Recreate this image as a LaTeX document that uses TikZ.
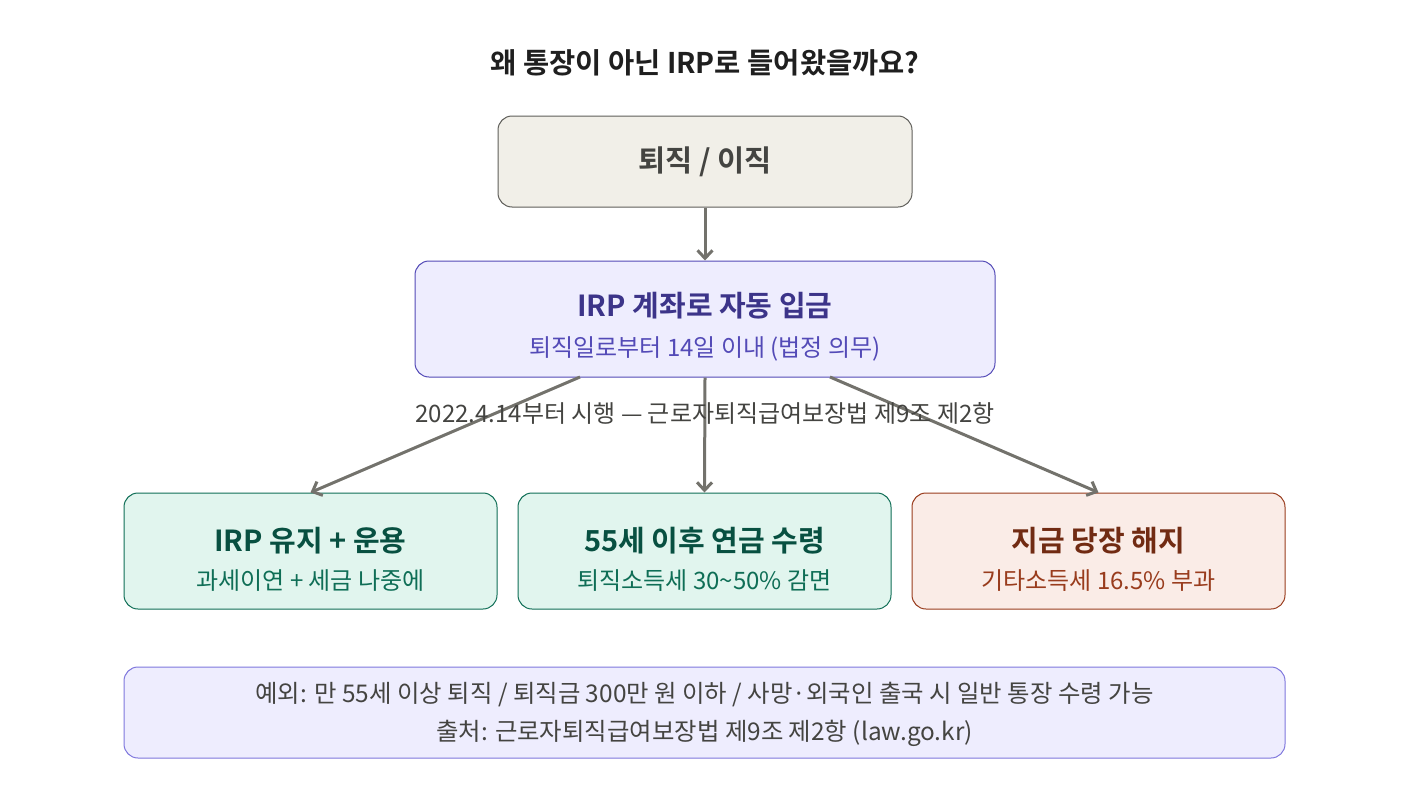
\documentclass[tikz,border=0pt]{standalone}
\usepackage{fontspec}
\setmainfont{Noto Sans CJK KR}[BoldFont={Noto Sans CJK KR Bold}]
\usetikzlibrary{arrows.meta}
\definecolor{graybg}{HTML}{F1EFE8}
\definecolor{grayln}{HTML}{5F5E5A}
\definecolor{graytx}{HTML}{444441}
\definecolor{purbg}{HTML}{EEEDFE}
\definecolor{purln}{HTML}{534AB7}
\definecolor{purft}{HTML}{7F77DD}
\definecolor{purtt}{HTML}{3C3489}
\definecolor{grnbg}{HTML}{E1F5EE}
\definecolor{grnln}{HTML}{0F6E56}
\definecolor{grntt}{HTML}{085041}
\definecolor{redbg}{HTML}{FAECE7}
\definecolor{redln}{HTML}{993C1D}
\definecolor{redtt}{HTML}{712B13}
\definecolor{arrowc}{HTML}{73726C}
\tikzset{
  box/.style={draw, rounded corners=14pt, line width=1pt, inner sep=0pt},
  conn/.style={draw=arrowc, line width=3pt, -{Straight Barb[length=8pt,width=15pt,line width=3pt]}},
  ttl/.style={font=\fontsize{29}{34}\selectfont\bfseries},
  sub/.style={font=\fontsize{24}{28}\selectfont},
  foot/.style={font=\fontsize{24.4}{28}\selectfont},
}
\begin{document}
\begin{tikzpicture}[x=1pt,y=-1pt]
\useasboundingbox (0,0) rectangle (1410,808);
\fill[white] (0,0) rectangle (1410,808);
\node[font=\fontsize{28.5}{34}\selectfont\bfseries, text=black!88] (title) at (705,63) {왜 통장이 아닌 IRP로 들어왔을까요?};
% box 1
\node[box, fill=graybg, draw=grayln, minimum width=414pt, minimum height=91pt] (b1) at (705,161.5) {};
\node[font=\fontsize{29.5}{34}\selectfont\bfseries, text=graytx] (b1t) at (b1.center) {퇴직 / 이직};
% box 2
\node[box, fill=purbg, draw=purln, minimum width=580pt, minimum height=116pt] (b2) at (705,319) {};
\node[ttl, text=purtt] (b2t) at (705,306) {IRP 계좌로 자동 입금};
\node[sub, text=purln] (b2s) at (705,349) {퇴직일로부터 14일 이내 (법정 의무)};
% bottom boxes
\node[box, fill=grnbg, draw=grnln, minimum width=373pt, minimum height=116pt] (ba) at (310.5,551) {};
\node[ttl, text=grntt] (bat) at (310.5,541) {IRP 유지 + 운용};
\node[sub, text=grnln] (bas) at (310.5,581) {과세이연 + 세금 나중에};
\node[box, fill=grnbg, draw=grnln, minimum width=373pt, minimum height=116pt] (bb) at (704.5,551) {};
\node[ttl, text=grntt] (bbt) at (704.5,541) {55세 이후 연금 수령};
\node[sub, text=grnln] (bbs) at (704.5,581) {퇴직소득세 30\textasciitilde50\% 감면};
\node[box, fill=redbg, draw=redln, minimum width=373pt, minimum height=116pt] (bc) at (1098.5,551) {};
\node[ttl, text=redtt] (bct) at (1098.5,541) {지금 당장 해지};
\node[sub, text=redln] (bcs) at (1098.5,581) {기타소득세 16.5\% 부과};
% arrows
\draw[conn] (b1.south) -- (b2.north);
\coordinate (s1) at (580,377);
\coordinate (s3) at (830,377);
\draw[conn] (s1) -- (ba.north);
\draw[conn] (b2.south) -- (bb.north);
\draw[conn] (s3) -- (bc.north);
% label
\node[sub, text=graytx] (lab) at (705,413) {2022.4.14부터 시행 — 근로자퇴직급여보장법 제9조 제2항};
% footer
\node[box, fill=purbg, draw=purft, minimum width=1161pt, minimum height=91pt] (ft) at (704.5,712.5) {};
\node[foot, text=graytx] (ft1) at (704.5,695) {예외: 만 55세 이상 퇴직 / 퇴직금 300만 원 이하 / 사망·외국인 출국 시 일반 통장 수령 가능};
\node[foot, text=graytx] (ft2) at (704.5,733) {출처: 근로자퇴직급여보장법 제9조 제2항 (law.go.kr)};
\end{tikzpicture}
\end{document}
